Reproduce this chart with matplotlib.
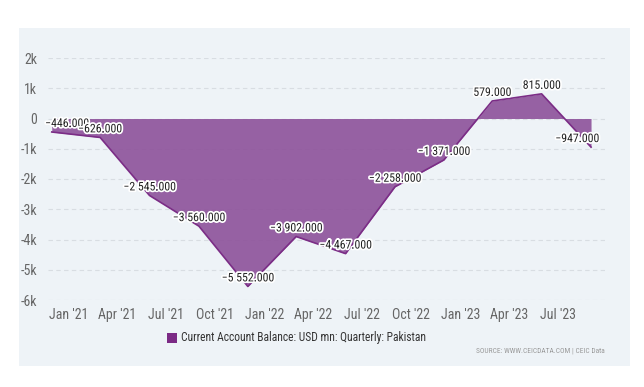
import matplotlib
matplotlib.use("Agg")
import matplotlib.pyplot as plt
import matplotlib.patheffects as pe
from matplotlib import font_manager
from matplotlib.patches import Rectangle
import datetime as dt

# quarterly data (dated at first day of the quarter's last month)
dates = ["2020-12-01", "2021-03-01", "2021-06-01", "2021-09-01", "2021-12-01", "2022-03-01",
         "2022-06-01", "2022-09-01", "2022-12-01", "2023-03-01", "2023-06-01", "2023-09-01"]
values = [-446, -626, -2545, -3560, -5552, -3902, -4467, -2258, -1371, 579, 815, -947]
yticks = [-6000, -5000, -4000, -3000, -2000, -1000, 0, 1000, 2000]
ytick_labels = ["-6k", "-5k", "-4k", "-3k", "-2k", "-1k", "0", "1k", "2k"]
tick_dates = ["2021-01-01", "2021-04-01", "2021-07-01", "2021-10-01", "2022-01-01", "2022-04-01",
              "2022-07-01", "2022-10-01", "2023-01-01", "2023-04-01", "2023-07-01"]
tick_labels = ["Jan '21", "Apr '21", "Jul '21", "Oct '21", "Jan '22", "Apr '22",
               "Jul '22", "Oct '22", "Jan '23", "Apr '23", "Jul '23"]
series_name = "Current Account Balance: USD mn: Quarterly: Pakistan"

# pick a narrow font if there is one
installed = {f.name for f in font_manager.fontManager.ttflist}
narrow = [n for n in ["Liberation Sans Narrow", "Roboto Condensed", "Open Sans Condensed",
                      "DejaVu Sans Condensed", "Noto Sans Condensed"] if n in installed]
plt.rcParams['font.family'] = narrow[:1] + ['DejaVu Sans']

x = [dt.datetime.strptime(d, "%Y-%m-%d") for d in dates]
xt = [dt.datetime.strptime(d, "%Y-%m-%d") for d in tick_dates]

fig = plt.figure(figsize=(6.44, 3.87), dpi=100)
fig.patch.set_facecolor("white")

# light panel behind the chart
bg = Rectangle((19 / 644, 1 - 366 / 387), (630 - 19) / 644, (366 - 28) / 387,
               transform=fig.transFigure, facecolor="#eef3f7", edgecolor="none", zorder=-5)
fig.patches.append(bg)

ax = fig.add_axes([48 / 644, 1 - 300 / 387, (605 - 48) / 644, (300 - 58) / 387])
ax.set_facecolor("none")
ax.set_zorder(2)

ax.fill_between(x, values, 0, color="#8d519a", alpha=0.9, linewidth=0, zorder=2)
ax.plot(x, values, color="#7b2d86", lw=1.2, zorder=3)

ax.set_ylim(-6000, 2000)
ax.set_xlim(x[0] - dt.timedelta(days=7), x[-1] + dt.timedelta(days=26))
ax.set_yticks(yticks)
ax.set_yticklabels(ytick_labels)
ax.set_xticks(xt)
ax.set_xticklabels(tick_labels)
ax.grid(axis="y", color="#d8dde2", linestyle=(0, (4, 3)), linewidth=0.8, zorder=1)
ax.tick_params(axis="both", length=0, colors="#666666", labelsize=10)
ax.tick_params(axis="x", pad=6)
ax.tick_params(axis="y", pad=8)
for s in ax.spines.values():
    s.set_visible(False)


def fmt(v):
    s = f"{abs(v):,.3f}".replace(",", " ")
    return ("\u2212" if v < 0 else "") + s


for i, (xi, v) in enumerate(zip(x, values)):
    dx = 0
    if i == 0:
        dx = 11
    elif i == len(values) - 1:
        dx = -10
    t = ax.annotate(fmt(v), (xi, v), xytext=(dx, 1.5), textcoords="offset points",
                    ha="center", va="bottom", fontsize=8.5, color="#222222", zorder=5)
    t.set_path_effects([pe.withStroke(linewidth=2.5, foreground="white")])

# legend
fig.patches.append(Rectangle((167 / 644, 1 - 343 / 387), 10 / 644, 10 / 387,
                             transform=fig.transFigure, facecolor="#7b2a85",
                             edgecolor="none", zorder=3))
fig.text(181 / 644, 1 - 338 / 387, series_name, ha="left", va="center",
         fontsize=8.3, color="#333333")
fig.text(605 / 644, 1 - 351 / 387, "SOURCE: WWW.CEICDATA.COM | CEIC Data", ha="right",
         va="center", fontsize=5.3, color="#999999")

fig.savefig("out.png", dpi=100)
